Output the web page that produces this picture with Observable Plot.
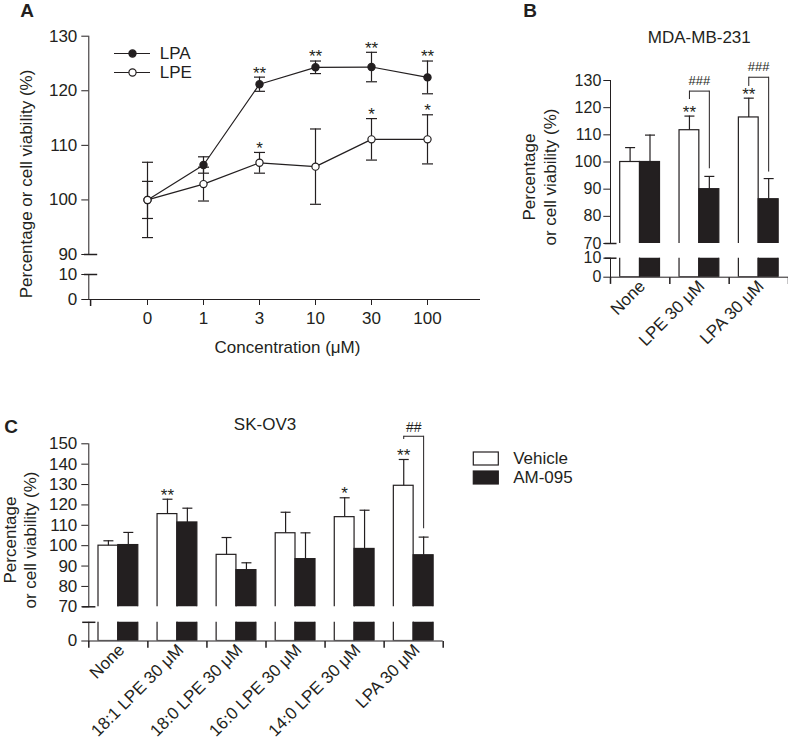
<!DOCTYPE html>
<html>
<head>
<meta charset="utf-8">
<script src="https://cdn.jsdelivr.net/npm/d3@7"></script>
<script src="https://cdn.jsdelivr.net/npm/@observablehq/plot@0.6"></script>
<style>
  body { margin: 0; background: #fff; }
  #fig { position: relative; width: 788px; height: 744px; overflow: hidden; background: #fff;
         font-family: 'Liberation Sans', Arial, Helvetica, sans-serif; color: #231f20; }
  .t { position: absolute; white-space: pre; line-height: 1; transform: translate(-50%, -50%); }
  .panel { font-weight: bold; font-size: 19px; }
  .title { font-size: 17px; }
  .rot { font-size: 17px; line-height: 20px; text-align: center; transform: translate(-50%, -50%) rotate(-90deg); }
</style>
</head>
<body>
<div id="fig"></div>
<script>
// ---------------- Panel A data ----------------
const concentrations = ["0", "1", "3", "10", "30", "100"];
const seriesA = ["LPA", "LPE"];
const lpaMean = [100, 106.4, 121.2, 124.3, 124.35, 122.45];
const lpaErr  = [3.4, 1.5, 1.3, 1.15, 2.7, 3.0];
const lpaSig  = ["", "", "**", "**", "**", "**"];
const lpeMean = [100, 102.9, 106.8, 106.1, 111.1, 111.1];
const lpeErr  = [6.9, 3.1, 1.9, 6.9, 3.8, 4.5];
const lpeSig  = ["", "", "*", "", "*", "*"];
const ticksATop = [90, 100, 110, 120, 130];
const ticksABottom = [0, 10];

// ---------------- Panel B data (MDA-MB-231) ----------------
const treatments = ["Vehicle", "AM-095"];
const mdaCategories = ["None", "LPE 30 μM", "LPA 30 μM"];
const mdaVehicle    = [100, 111.7, 116.4];
const mdaVehicleErr = [5.3, 5.2, 7.1];
const mdaVehicleSig = ["", "**", "**"];
const mdaAm         = [100, 90.0, 86.3];
const mdaAmErr      = [9.9, 4.7, 7.6];
const mdaBracketCats  = ["LPE 30 μM", "LPA 30 μM"];
const mdaBracketTop   = [126.1, 131.2];
const mdaBracketLeft  = [123.0, 127.8];
const mdaBracketRight = [97.5, 96.3];
const mdaBracketLabel = ["###", "###"];
const ticksBTop = [70, 80, 90, 100, 110, 120, 130];
const ticksBBottom = [0, 10];

// ---------------- Panel C data (SK-OV3) ----------------
const skovCategories = ["None", "18:1 LPE 30 μM", "18:0 LPE 30 μM", "16:0 LPE 30 μM", "14:0 LPE 30 μM", "LPA 30 μM"];
const skovVehicle    = [100, 115.5, 95.5, 106.1, 114.0, 129.4];
const skovVehicleErr = [2.4, 7.3, 8.5, 10.3, 9.5, 12.9];
const skovVehicleSig = ["", "**", "", "", "*", "**"];
const skovAm         = [100.3, 111.4, 88.0, 93.4, 98.4, 95.3];
const skovAmErr      = [6.2, 7.0, 3.6, 12.9, 19.0, 8.9];
const skovBracketCats  = ["LPA 30 μM"];
const skovBracketTop   = [153.7];
const skovBracketLeft  = [152.1];
const skovBracketRight = [108.3];
const skovBracketLabel = ["##"];
const ticksCTop = [70, 80, 90, 100, 110, 120, 130, 140, 150];
const ticksCBottom = [0];

// ---------------- helpers ----------------
const INK = "#231f20";
const FONT = "'Liberation Sans', Arial, Helvetica, sans-serif";
const fig = document.getElementById("fig");
const baseStyle = {fontSize: "17px", fontFamily: FONT, color: INK, background: "none", overflow: "visible"};

function place(svg, left, top) {
  svg.style.position = "absolute";
  svg.style.left = left + "px";
  svg.style.top = top + "px";
  fig.appendChild(svg);
}
function htmlText(txt, x, y, cls, lineHeight) {
  const d = document.createElement("div");
  d.className = "t " + cls;
  d.textContent = txt;
  d.style.left = x + "px";
  d.style.top = y + "px";
  if (lineHeight) d.style.lineHeight = lineHeight + "px";
  fig.appendChild(d);
}
// custom stroke-only symbols: horizontal cap and downward tick
const hline = {draw(ctx, size) { const r = Math.sqrt(size / Math.PI); ctx.moveTo(-r, 0); ctx.lineTo(r, 0); }};
const vdown = {draw(ctx, size) { const r = Math.sqrt(size / Math.PI); ctx.moveTo(0, 0); ctx.lineTo(0, r); }};
const ink = {stroke: INK, strokeWidth: 1.2};

// ---------------- Panel A ----------------
const rowsA = [];
concentrations.forEach((c, i) => {
  rowsA.push({series: "LPA", conc: c, mean: lpaMean[i], err: lpaErr[i], sig: lpaSig[i]});
});
concentrations.forEach((c, i) => {
  rowsA.push({series: "LPE", conc: c, mean: lpeMean[i], err: lpeErr[i], sig: lpeSig[i]});
});
const A_INSET_L = 56.9, A_INSET_R = 51;
const xA = {type: "point", domain: concentrations, padding: 0, insetLeft: A_INSET_L, insetRight: A_INSET_R};

place(Plot.plot({
  width: 480, height: 258, marginLeft: 88.3, marginRight: 0, marginTop: 35.7, marginBottom: 4,
  style: baseStyle,
  x: {...xA, axis: null},
  y: {domain: [90, 130], ticks: ticksATop, tickSize: 7, tickPadding: 4.5, line: true, label: null},
  color: {domain: seriesA, range: [INK, "#ffffff"]},
  marks: [
    Plot.line(rowsA, {x: "conc", y: "mean", z: "series", ...ink}),
    Plot.ruleX(rowsA, {x: "conc", y1: d => d.mean - d.err, y2: d => d.mean + d.err, ...ink}),
    Plot.dot(rowsA, {x: "conc", y: d => d.mean - d.err, symbol: hline, r: 5.5, fill: "none", ...ink}),
    Plot.dot(rowsA, {x: "conc", y: d => d.mean + d.err, symbol: hline, r: 5.5, fill: "none", ...ink}),
    Plot.dot(rowsA, {x: "conc", y: "mean", r: 3.6, fill: "series", ...ink}),
    Plot.text(rowsA, {x: "conc", y: d => d.mean + d.err, text: "sig", dy: -4, fill: INK}),
    Plot.dot([ticksATop[0]], {x: () => concentrations[0], y: d => d, symbol: hline, r: 6.6, dx: -A_INSET_L, fill: "none", stroke: INK})
  ]
}), 0, 0);

place(Plot.plot({
  width: 480, height: 65, marginLeft: 88.3, marginRight: 0, marginTop: 10, marginBottom: 30,
  style: baseStyle,
  x: {...xA, tickSize: 6, tickPadding: 6.5, label: null},
  y: {domain: [0, 10], ticks: ticksABottom, tickSize: 7, tickPadding: 4.5, line: true, label: null},
  marks: [
    Plot.ruleY([ticksABottom[0]], {stroke: INK}),
    Plot.dot([ticksABottom[1]], {x: () => concentrations[0], y: d => d, symbol: hline, r: 6.6, dx: -A_INSET_L, fill: "none", stroke: INK}),
    Plot.dot([ticksABottom[0]], {x: () => concentrations[0], y: d => d, symbol: vdown, r: 6.5, dx: -A_INSET_L, fill: "none", stroke: INK})
  ]
}), 0, 264);

// legend A
place(Plot.plot({
  width: 200, height: 46, marginLeft: 114, marginRight: 50, marginTop: 13.3, marginBottom: 13.4,
  style: baseStyle,
  y: {type: "point", domain: seriesA, padding: 0, axis: null},
  color: {domain: seriesA, range: [INK, "#ffffff"]},
  marks: [
    Plot.ruleY(seriesA, {y: d => d, ...ink}),
    Plot.dot(seriesA, {y: d => d, r: 3.6, fill: d => d, ...ink}),
    Plot.text(seriesA, {y: d => d, text: d => d, frameAnchor: "right", textAnchor: "start", dx: 9.3, fill: INK})
  ]
}), 0, 40);

// ---------------- bar panels (B, C) ----------------
function barRows(cats, vals, errs, sigs, treatment) {
  return cats.map((cat, i) => ({cat, treatment, value: vals[i], err: errs[i], sig: sigs ? sigs[i] : ""}));
}
function bracketRows(cats, top, left, right, label) {
  return cats.map((cat, i) => ({cat, top: top[i], left: left[i], right: right[i], label: label[i]}));
}
function barPanel(cfg) {
  const {cats, veh, am, brackets, left, width, marginLeft, marginRight, topSeg, botSeg, tickSize, tickPadding,
         tickFont, bracketFont, bracketDy, labelDx, labelDy, breakR} = cfg;
  const step = (width - marginLeft - marginRight) / cats.length;
  const vehDx = 19.6 - step / 2, amDx = 39.5 - step / 2;
  const midDx = (vehDx + amDx) / 2, halfGap = (amDx - vehDx) / 2;
  const x = {type: "band", domain: cats, padding: 0, round: false};
  const color = {domain: treatments, range: ["#ffffff", INK]};
  const style = {...baseStyle, fontSize: tickFont + "px"};
  const bars = () => [
    Plot.barY(veh, {x: "cat", y: "value", fill: "treatment", ...ink, insetLeft: 9.7, insetRight: step - 29.5, clip: true}),
    Plot.barY(am,  {x: "cat", y: "value", fill: "treatment", ...ink, insetLeft: 29.5, insetRight: step - 49.5, clip: true})
  ];
  const errs = (rows, dx) => [
    Plot.ruleX(rows, {x: "cat", y1: "value", y2: d => d.value + d.err, dx, ...ink}),
    Plot.dot(rows, {x: "cat", y: d => d.value + d.err, symbol: hline, r: 5, dx, fill: "none", ...ink}),
    Plot.text(rows, {x: "cat", y: d => d.value + d.err, text: "sig", dx, dy: -4, fontSize: 17, fill: INK})
  ];
  // top segment
  place(Plot.plot({
    width, height: topSeg.height, marginLeft, marginRight, marginTop: topSeg.marginTop, marginBottom: topSeg.marginBottom,
    style,
    x: {...x, axis: null},
    y: {domain: topSeg.domain, ticks: topSeg.ticks, tickSize, tickPadding, line: true, label: null},
    color,
    marks: [
      ...bars(),
      ...errs(veh, vehDx),
      ...errs(am, amDx),
      Plot.ruleX(brackets, {x: "cat", y1: "left", y2: "top", dx: vehDx, ...ink, strokeWidth: 1}),
      Plot.ruleX(brackets, {x: "cat", y1: "right", y2: "top", dx: amDx, ...ink, strokeWidth: 1}),
      Plot.dot(brackets, {x: "cat", y: "top", symbol: hline, r: halfGap, dx: midDx, fill: "none", stroke: INK, strokeWidth: 1}),
      Plot.text(brackets, {x: "cat", y: "top", text: "label", dx: midDx, dy: bracketDy, fontSize: bracketFont, fill: INK}),
      Plot.dot([topSeg.domain[0]], {x: () => cats[0], y: d => d, symbol: hline, r: breakR, dx: -step / 2, fill: "none", stroke: INK})
    ]
  }), left, topSeg.top);
  // bottom segment
  const last = cats[cats.length - 1];
  place(Plot.plot({
    width, height: botSeg.height, marginLeft, marginRight, marginTop: botSeg.marginTop, marginBottom: botSeg.marginBottom,
    style,
    x: {...x, axis: null},
    y: {domain: botSeg.domain, ticks: botSeg.ticks, tickSize, tickPadding, line: true, label: null},
    color,
    marks: [
      ...bars(),
      Plot.ruleY([botSeg.domain[0]], {stroke: INK}),
      Plot.dot(cats, {x: d => d, y: () => botSeg.domain[0], symbol: vdown, r: 6.7, dx: -step / 2, fill: "none", stroke: INK}),
      Plot.dot([last], {x: d => d, y: () => botSeg.domain[0], symbol: vdown, r: 6.7, dx: step / 2, fill: "none", stroke: INK}),
      Plot.dot([botSeg.domain[1]], {x: () => cats[0], y: d => d, symbol: hline, r: breakR, dx: -step / 2, fill: "none", stroke: INK}),
      Plot.text(cats, {x: d => d, frameAnchor: "bottom", text: d => d, rotate: -45, textAnchor: "end", dx: labelDx, dy: labelDy, fontSize: 17, fill: INK})
    ]
  }), left, botSeg.top);
}

barPanel({
  cats: mdaCategories,
  veh: barRows(mdaCategories, mdaVehicle, mdaVehicleErr, mdaVehicleSig, "Vehicle"),
  am: barRows(mdaCategories, mdaAm, mdaAmErr, null, "AM-095"),
  brackets: bracketRows(mdaBracketCats, mdaBracketTop, mdaBracketLeft, mdaBracketRight, mdaBracketLabel),
  left: 500, width: 288, marginLeft: 110, marginRight: 0,
  topSeg: {top: 50, height: 200, marginTop: 30, marginBottom: 7, domain: [70, 130], ticks: ticksBTop},
  botSeg: {top: 250, height: 120, marginTop: 7.7, marginBottom: 93.3, domain: [0, 10], ticks: ticksBBottom},
  tickSize: 6.7, tickPadding: 2.5, tickFont: 16, bracketFont: 13, bracketDy: -10, labelDx: 6, labelDy: 10, breakR: 6
});

barPanel({
  cats: skovCategories,
  veh: barRows(skovCategories, skovVehicle, skovVehicleErr, skovVehicleSig, "Vehicle"),
  am: barRows(skovCategories, skovAm, skovAmErr, null, "AM-095"),
  brackets: bracketRows(skovBracketCats, skovBracketTop, skovBracketLeft, skovBracketRight, skovBracketLabel),
  left: 0, width: 445, marginLeft: 88.3, marginRight: 2.3,
  topSeg: {top: 410, height: 200, marginTop: 33.3, marginBottom: 3.7, domain: [70, 150], ticks: ticksCTop},
  botSeg: {top: 612, height: 132, marginTop: 9.8, marginBottom: 103.5, domain: [0, 10], ticks: ticksCBottom},
  tickSize: 7, tickPadding: 4.5, tickFont: 17, bracketFont: 14, bracketDy: -9, labelDx: 7, labelDy: 10, breakR: 6.6
});

// legend for B/C
place(Plot.plot({
  width: 200, height: 55, marginLeft: 33.3, marginRight: 141.7, marginTop: 11.7, marginBottom: 11,
  style: baseStyle,
  y: {type: "band", domain: treatments, paddingInner: 0.3, paddingOuter: 0, axis: null},
  color: {domain: treatments, range: ["#ffffff", INK]},
  marks: [
    Plot.cell(treatments, {y: d => d, fill: d => d, stroke: INK, strokeWidth: 1.2}),
    Plot.text(treatments, {y: d => d, text: d => d, frameAnchor: "right", textAnchor: "start", dx: 14.4, fill: INK})
  ]
}), 440, 440);

// ---------------- text ----------------
htmlText("A", 27, 10, "panel");
htmlText("B", 530, 10, "panel");
htmlText("C", 11, 426, "panel");
htmlText("MDA-MB-231", 699.3, 36.7, "title");
htmlText("SK-OV3", 265, 424, "title");
htmlText("Concentration (μM)", 287.5, 346.5, "title");
htmlText("Percentage or cell viability (%)", 27, 184, "rot");
htmlText("Percentage\nor cell viability (%)", 540, 177, "rot", 21);
htmlText("Percentage\nor cell viability (%)", 20.2, 540, "rot", 19.5);
</script>
</body>
</html>
